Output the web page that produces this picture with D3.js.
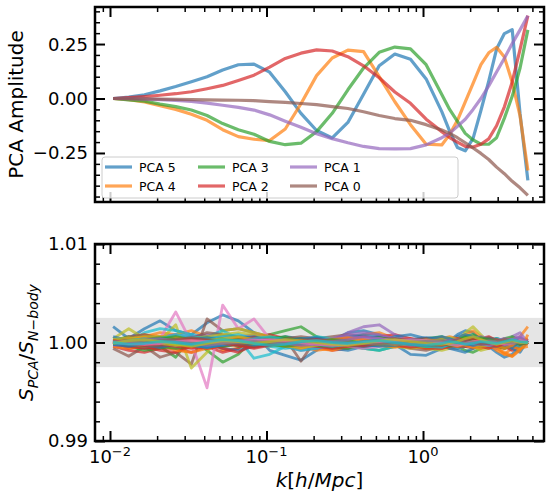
<!DOCTYPE html>
<meta charset="utf-8">
<html>
<head>
<title>PCA amplitudes</title>
<script src="https://cdn.jsdelivr.net/npm/d3@7"></script>
<style>
  body { margin: 0; background: #fff; }
  svg { font-family: "DejaVu Sans", sans-serif; }
  .tick line { stroke: #000; }
  .math { font-style: italic; }
</style>
</head>
<body>
<svg></svg>
<script>

// k grid [h/Mpc], shared by both panels
var kVals = [0.01047, 0.01318, 0.01660, 0.02089, 0.02630, 0.03311, 0.04169, 0.05248, 0.06607, 0.08318,
             0.1047, 0.1318, 0.1660, 0.2089, 0.2630, 0.3311, 0.4169, 0.5248, 0.6607, 0.8318,
             1.047, 1.318, 1.479, 1.660, 1.862, 2.089, 2.344, 2.630, 2.951, 3.311, 3.715, 4.169, 4.677];

var pcaLabels = ["PCA 5", "PCA 4", "PCA 3", "PCA 2", "PCA 1", "PCA 0"];

var pca5 = [0.000, 0.006, 0.017, 0.035, 0.055, 0.077, 0.100, 0.131, 0.155, 0.158, 0.121, 0.031, -0.068, -0.147, -0.181, -0.110, 0.020,
            0.150, 0.204, 0.180, 0.090, -0.060, -0.150, -0.225, -0.240, -0.183, -0.055, 0.080, 0.227, 0.298, 0.316, -0.070, -0.376];
var pca4 = [0.000, -0.005, -0.016, -0.033, -0.050, -0.072, -0.100, -0.143, -0.175, -0.187, -0.193, -0.140, -0.024, 0.105, 0.186, 0.222, 0.215,
            0.100, -0.015, -0.120, -0.210, -0.213, -0.165, -0.100, -0.015, 0.070, 0.155, 0.210, 0.235, 0.190, 0.075, -0.080, -0.330];
var pca3 = [0.000, -0.006, -0.012, -0.026, -0.037, -0.053, -0.078, -0.115, -0.143, -0.164, -0.197, -0.212, -0.205, -0.152, -0.068, 0.040, 0.140,
            0.212, 0.236, 0.228, 0.155, 0.018, -0.050, -0.105, -0.160, -0.190, -0.210, -0.210, -0.180, -0.090, 0.010, 0.140, 0.315];
var pca2 = [0.000, 0.004, 0.009, 0.015, 0.022, 0.031, 0.045, 0.060, 0.083, 0.107, 0.144, 0.184, 0.208, 0.223, 0.218, 0.192, 0.150,
            0.095, 0.030, -0.022, -0.095, -0.152, -0.179, -0.200, -0.220, -0.223, -0.210, -0.185, -0.125, -0.038, 0.076, 0.225, 0.380];
var pca1 = [0.000, -0.001, -0.003, -0.005, -0.009, -0.013, -0.021, -0.031, -0.041, -0.053, -0.075, -0.104, -0.132, -0.162, -0.184, -0.203, -0.220,
            -0.230, -0.231, -0.230, -0.213, -0.180, -0.160, -0.128, -0.095, -0.050, 0.000, 0.058, 0.122, 0.185, 0.252, 0.315, 0.380];
var pca0 = [0.000, -0.001, -0.002, -0.003, -0.004, -0.005, -0.006, -0.007, -0.008, -0.010, -0.014, -0.018, -0.023, -0.028, -0.037, -0.046, -0.061,
            -0.078, -0.092, -0.100, -0.120, -0.145, -0.160, -0.180, -0.203, -0.227, -0.252, -0.280, -0.315, -0.345, -0.380, -0.410, -0.445];

var ampTicks = [-0.25, 0, 0.25];
var ratioTicks = [0.99, 1.00, 1.01];
var kTicks = [0.01, 0.1, 1];
var kTickExp = ["\u22122", "\u22121", "0"];
var ratioBand = [0.9975, 1.0025];

// S_PCA / S_Nbody - 1, in units of 1e-4, one row per test model
var ratioDev = [
  [16, 4, 14, 22, 12, 8, 20, 28, 22, 10, -8, -13, -18, -8, 2, 10, 12, 8, -2, -12, -13, -6, 2, 8, 12, 10, 2, -4, -10, -15, -12, -4, 2],
  [0, -4, 6, 10, 8, 12, 6, -8, -6, 4, 6, 2, -4, -8, -6, 2, 8, 10, 4, -2, -6, -4, 0, 4, 8, 12, 6, -2, -8, -12, -6, 6, 16],
  [2, 6, 0, -4, -15, 6, -8, -20, -12, 4, 8, 12, 16, 6, 2, -4, -6, -8, -4, 2, 4, 6, 2, -4, -8, -10, -6, 0, 4, 2, -2, -6, 0],
  [-4, -8, -10, -6, -6, -10, -4, -10, -6, 6, 8, 4, 2, -4, -8, -6, 2, 6, 8, 4, 0, -4, -6, -6, -4, 0, 4, 6, 2, -4, -8, -2, 4],
  [-2, 2, 4, 6, 8, 6, 4, 6, 2, 0, -2, -4, -8, -6, 2, 10, 16, 18, 8, 0, -2, -4, -2, 2, 4, 2, 0, -4, -6, -4, 6, 10, 0],
  [-6, -14, -4, -15, -10, -22, 24, 12, 14, 10, 6, 4, -19, 4, 6, 8, 6, 2, -2, -6, -8, -4, 0, 4, 6, 4, 0, -2, -4, -6, -4, 2, -2],
  [0, 2, 0, 4, 31, 0, -46, 38, 14, 24, 4, 2, 0, -4, -2, 2, 4, 2, 0, -2, -4, -2, 0, 2, 4, 2, 0, -2, -2, 0, 4, 6, 0],
  [0, 2, 4, 2, 4, 6, 4, 2, 4, 6, 4, 2, 0, -2, -2, 0, 2, 2, 0, -2, -2, 0, 2, 2, 0, -2, -2, 0, 2, 2, 0, -2, 0],
  [4, 14, 4, 2, 18, -26, -10, 12, 14, 10, 6, 2, -2, -6, -4, 0, 2, 4, 2, -2, -6, -8, -6, 2, 10, 16, 8, 0, -4, -4, 0, 4, 0],
  [2, 0, 10, 14, 12, 8, 6, 12, 4, -16, -12, -4, 2, 6, 4, -2, -6, -8, -4, 2, 4, 2, -4, -6, -4, 0, 2, 4, 2, -2, -4, -2, 0],
  [3, -2, -6, -4, 2, 4, -2, -6, -8, -4, 2, 6, 4, -2, -6, -8, -4, 2, 6, 8, 4, -2, -6, -8, -10, -6, -2, 2, 4, 2, -6, -10, 2],
  [-2, 4, 8, 6, 6, 2, -6, -4, 4, 8, 6, 2, -2, -6, -8, -4, 2, 4, 2, 0, -4, -6, -4, 0, 4, 6, 4, 2, -4, -12, -14, -6, -4],
  [0, -4, -8, -6, -2, 4, 6, 2, -4, -2, 4, 6, 2, -2, -4, -6, -2, 2, 4, 2, -2, -4, -2, 2, 6, 8, 4, 0, -4, -6, -2, 4, 0],
  [1, -6, -4, -8, -10, -4, 2, -6, -10, -2, 4, 2, -2, -4, 0, 4, 6, 4, 0, -4, -6, -6, -4, -2, 0, 2, 0, -2, -2, 0, 2, -4, 0],
  [2, 4, 2, -2, 2, 6, 8, 4, 6, 8, 4, 0, -4, -6, -4, 0, 4, 6, 4, 2, 0, -2, -2, 0, 2, 4, 6, 4, 2, 0, -2, 0, 0],
  [0, 6, 8, 4, 2, 4, 10, 8, 6, 4, 2, 4, 6, 4, 2, 0, -2, -2, 0, 2, 4, 2, 0, -2, -4, -6, -4, -2, 0, 2, 4, 2, 0],
  [0, 2, 2, 2, 2, 2, 2, 2, 2, 2, 2, 2, 0, 0, -2, -4, -6, -4, -2, 0, 2, 2, 2, 2, 0, -2, -2, 0, 2, 4, 4, 2, 0],
  [0, 1, 1, 0, -1, 0, 1, 1, 0, -1, 0, 1, 0, -1, 0, 1, 0, -1, 0, 1, 0, -1, 0, 1, 0, -1, 0, 1, 0, -1, 0, 1, 0],
  [2, 4, 6, 6, 4, 4, 6, 8, 10, 8, 4, 2, 0, -2, 0, 2, 0, -2, -4, -4, -2, 0, 2, 2, 0, -4, -8, -6, -2, 2, 0, -2, 0],
  [-2, -4, -2, 4, 8, 6, 4, 6, 8, 4, 0, -4, -8, -6, -2, 2, 4, 2, -2, -4, -4, -2, 2, 4, 2, 0, -2, -4, -4, -2, 0, 2, 0],
  [6, 2, -2, 0, 4, 2, -4, -2, 4, 6, 2, -2, -4, -2, 2, 6, 8, 6, 2, -2, -4, -2, 2, 6, 8, 6, 2, -2, -2, 0, 2, -2, 0],
  [-4, -6, -4, -2, -8, -10, -6, -2, 2, 4, 2, -4, -6, -2, 2, 4, 2, -2, -4, -4, 0, 4, 6, 4, 0, -4, -6, -4, -6, -10, -14, -8, 8],
  [2, 0, -2, -4, -6, -4, 2, 4, 0, -4, -2, 2, 4, 2, -2, -2, 0, 2, 2, 0, -2, -4, -2, 0, 2, 0, -2, -2, 0, 4, 6, 2, 0],
  [-2, -4, -6, -4, -2, -4, -6, -4, -2, 0, 2, 0, -2, -4, -6, -4, -2, 0, 2, 4, 2, 0, -2, -4, -4, -2, 0, 2, 2, 0, -2, 2, 0],
  [0, 2, 4, 2, 0, -2, 0, 2, 4, 2, 0, -2, -2, 0, 4, 8, 10, 8, 4, 0, -2, -4, -2, 0, 2, 4, 2, 0, -2, 0, 4, 6, 0],
  [-2, 0, 2, 4, 2, -2, -4, -2, 0, 2, 4, 2, 0, -2, -2, 0, 2, 4, 4, 2, 0, -2, -4, -4, -2, 0, 2, 4, 2, 0, -2, -2, 0],
  [0, 1, 2, 3, 2, 1, 0, -1, -2, -1, 0, 1, 2, 1, 0, -1, -2, -3, -2, -1, 0, 1, 2, 1, 0, -1, -2, -1, 0, 1, 2, 1, 0],
  [0, -1, 0, 1, 2, 3, 2, 1, 0, 1, 2, 3, 2, 1, 0, -1, -2, -1, 0, 1, 0, -1, -2, -1, 0, 1, 2, 1, 0, -1, 0, 1, 0],
  [0, -2, -4, -2, 0, 2, 4, 2, 0, -2, -4, -2, 0, 2, 4, 2, 0, -2, -4, -6, -4, -2, 0, 2, 0, -2, -4, -2, 0, 2, 4, 2, 0],
  [0, 2, 0, -2, -4, -2, 0, 2, 0, -2, -4, -6, -4, -2, 0, 2, 0, -2, -4, -2, 0, 2, 4, 2, 0, -2, 0, 2, 4, 2, -2, -4, 0],
  [2, 1, -3, -5, -2, 3, 5, 2, -1, -4, -3, 1, 4, 5, 2, -2, -4, -3, 0, 3, 5, 4, 1, -2, -3, -1, 2, 4, 3, -1, -3, 2, 0],
  [-1, 3, 5, 2, -2, -5, -3, 2, 5, 3, -1, -3, -5, -2, 2, 4, 1, -3, -5, -2, 2, 5, 3, 0, -3, -5, -2, 1, 3, 1, -4, -7, 0],
  [0, -2, 1, 4, 6, 3, -1, -4, -2, 2, 5, 4, 0, -3, -4, -1, 3, 5, 2, -2, -4, -3, 0, 3, 5, 3, -1, -3, -1, 2, 4, 1, 0],
  [1, 4, 2, -2, -4, -6, -3, 1, 3, 5, 2, -2, -4, -1, 2, 4, 2, -1, -3, -5, -3, 0, 2, 4, 2, -2, -4, -6, -3, 1, 3, -2, 0],
  [-3, -1, 2, 3, 1, -2, -4, -2, 1, 3, 2, 0, -2, 1, 4, 6, 5, 2, -1, -3, -2, 1, 3, 2, -1, -3, -2, 0, 2, 4, 2, 5, 0],
  [0, -3, -5, -3, 0, 3, 2, -1, -3, -5, -2, 1, 3, 2, -1, -3, -4, -2, 1, 3, 4, 2, -1, -3, -2, 1, 3, 5, 3, 0, -2, -1, 0],
  [1, 0, -1, 1, 3, 2, 0, -2, -1, 1, 2, 1, -1, -2, -1, 1, 3, 4, 2, 0, -1, 0, 1, 2, 1, 0, -1, 0, 1, 2, 3, 1, 0],
  [-1, 0, 2, 1, -1, -2, 0, 2, 3, 1, -1, -2, 0, 2, 1, -1, -2, 0, 1, 2, 0, -2, -1, 1, 2, 0, -2, -1, 1, 0, -1, 1, 0],
  [3, 5, 2, -1, -3, -1, 2, 4, 6, 3, 0, -3, -5, -3, 0, 2, 1, -1, -3, -1, 2, 4, 5, 3, 1, -2, -4, -3, 0, 2, 1, -1, 0],
  [0, 2, 4, 2, -1, -3, -5, -2, 1, 4, 6, 3, 0, -2, -4, -2, 1, 3, 1, -2, -4, -5, -2, 1, 3, 2, -1, -3, -4, -2, 2, 3, 0],
  [-2, -4, -1, 2, 0, -3, -5, -3, 0, 2, 0, -3, -2, 1, 3, 1, -2, -4, -3, 0, 3, 6, 4, 1, -1, -3, -1, 2, 0, -3, -5, 1, 0],
  [2, 0, -2, 1, 4, 2, -1, 1, 4, 2, -1, -4, -3, 0, 3, 5, 3, 0, -2, 0, 3, 1, -2, -4, -2, 1, 3, 1, -3, -6, -3, 3, 0],
  [-1, 1, 3, 5, 3, 0, -2, 1, 3, 1, -2, -4, -2, 1, 3, 2, -1, -2, 0, 2, 1, -1, -3, -2, 1, 3, 5, 3, 1, -1, 1, -2, 0],
  [2, -1, -3, -1, 2, 4, 2, -1, -3, -6, -3, 0, 2, 3, 1, -2, -3, -1, 1, 0, -2, -3, -1, 1, 3, 4, 1, -2, -4, -2, 1, 2, 0],
  [0, 1, 3, 4, 2, -1, -3, -1, 2, 3, 1, -1, -3, -2, 1, 3, 6, 4, 1, -1, -2, 0, 2, 3, 1, -1, -2, -3, -1, 1, 3, 4, 0],
  [1, -2, -1, 2, 3, 5, 3, 0, -2, -1, 2, 3, 1, -2, -3, -1, 1, 2, 0, -2, -3, -2, 1, 3, 2, 0, -2, -1, 1, 3, 2, -1, 0],
  [0, -1, -2, -1, 1, 2, 1, 0, 1, 2, 3, 2, 0, -2, -3, -2, 0, 1, 2, 3, 2, 0, -2, -3, -1, 1, 2, 1, 0, -2, -1, 2, 0],
  [1, 0, 1, 2, 1, -1, -2, -1, 0, 1, 0, -1, 1, 2, 1, 0, -1, -2, -1, 0, 1, 2, 1, 0, -1, 0, 1, 2, 1, 0, -1, 0, 0],
  [-1, 2, 3, 1, -2, -4, -1, 2, 1, -1, 1, 3, 2, 0, -2, -3, -1, 2, 3, 1, -1, -2, -1, 1, 4, 6, 3, 0, -2, 0, 2, 0, 0],
  [0, -2, -1, 1, 0, -2, 1, 3, 2, -1, -3, -2, 1, 2, 0, -1, 1, 2, 0, -2, -3, -1, 1, 0, -2, -1, 1, 0, -1, 1, 3, 1, 0]
];

var ampSeries = [pca5, pca4, pca3, pca2, pca1, pca0];

var color = d3.scaleOrdinal(d3.schemeCategory10).domain(d3.range(10));
var left = 95, width = 449;
var top1 = 7, height1 = 195;
var top2 = 244, height2 = 197;

var x = d3.scaleLog().domain([0.00802, 5.93]).range([0, width]);
var yAmp = d3.scaleLinear().domain([-0.475, 0.42]).range([height1, 0]);
var yRatio = d3.scaleLinear().domain([0.99, 1.01]).range([height2, 0]);

var svg = d3.select("svg").attr("width", 551).attr("height", 501);

var g1 = svg.append("g").attr("transform", "translate(" + left + "," + top1 + ")");
var g2 = svg.append("g").attr("transform", "translate(" + left + "," + top2 + ")");

// minor tick positions
var kMinor = [];
[0.001, 0.01, 0.1, 1].forEach(function(d) {
  for (var m = 2; m < 10; m++) {
    var v = m * d;
    if (v > x.domain()[0] && v < x.domain()[1]) kMinor.push(v);
  }
});
var ampMinor = d3.range(-9, 9).filter(function(i) { return i % 5 != 0; }).map(function(i) { return i * 0.05; });
var ratioMinor = d3.range(-4, 5).filter(function(i) { return i % 5 != 0; }).map(function(i) { return 1 + i * 0.002; });

// ---- top panel
var lineAmp = d3.line()
    .x(function(d, i) { return x(kVals[i]); })
    .y(function(d) { return yAmp(d); });

g1.selectAll(".amp")
    .data(ampSeries)
    .enter().append("path")
    .attr("class", "amp")
    .attr("d", lineAmp)
    .style("fill", "none")
    .style("stroke", function(d, i) { return color(i); })
    .style("stroke-width", 3.2)
    .style("stroke-opacity", 0.7)
    .style("stroke-linejoin", "round");

// ---- bottom panel
g2.append("rect")
    .attr("x", 0)
    .attr("width", width)
    .attr("y", yRatio(ratioBand[1]))
    .attr("height", yRatio(ratioBand[0]) - yRatio(ratioBand[1]))
    .style("fill", "lightgray")
    .style("opacity", 0.6);

var lineRatio = d3.line()
    .x(function(d, i) { return x(kVals[i]); })
    .y(function(d) { return yRatio(1 + d * 1e-4); });

g2.selectAll(".ratio")
    .data(ratioDev)
    .enter().append("path")
    .attr("class", "ratio")
    .attr("d", lineRatio)
    .style("fill", "none")
    .style("stroke", function(d, i) { return color(i % 10); })
    .style("stroke-width", 2.8)
    .style("stroke-opacity", 0.7)
    .style("stroke-linejoin", "round");

// inward ticks on all four sides
function frameTicks(g, h, ys, xVals, yVals, size, sw) {
  var axes = [
    g.append("g").attr("transform", "translate(0," + h + ")").call(d3.axisBottom(x).tickValues(xVals).tickSize(-size).tickFormat("")),
    g.append("g").call(d3.axisTop(x).tickValues(xVals).tickSize(-size).tickFormat("")),
    g.append("g").call(d3.axisLeft(ys).tickValues(yVals).tickSize(-size).tickFormat("")),
    g.append("g").attr("transform", "translate(" + width + ",0)").call(d3.axisRight(ys).tickValues(yVals).tickSize(-size).tickFormat(""))
  ];
  axes.forEach(function(a) {
    a.select(".domain").remove();
    a.selectAll(".tick text").remove();
    a.selectAll(".tick line").style("stroke-width", sw);
  });
}

frameTicks(g1, height1, yAmp, kMinor, ampMinor, 5, 1.5);
frameTicks(g1, height1, yAmp, kTicks, ampTicks, 10, 2);
frameTicks(g2, height2, yRatio, kMinor, ratioMinor, 5, 1.5);
frameTicks(g2, height2, yRatio, kTicks, ratioTicks, 10, 2);

[[g1, height1], [g2, height2]].forEach(function(p) {
  p[0].append("rect")
      .attr("width", width)
      .attr("height", p[1])
      .style("fill", "none")
      .style("stroke", "#000")
      .style("stroke-width", 2.5);
});

// tick labels
var fmt = d3.format(".2f");
g1.selectAll(".ylab")
    .data(ampTicks)
    .enter().append("text")
    .attr("x", -7)
    .attr("y", function(d) { return yAmp(d); })
    .attr("dy", "0.36em")
    .style("text-anchor", "end")
    .style("font-size", "18px")
    .text(fmt);

g2.selectAll(".ylab")
    .data(ratioTicks)
    .enter().append("text")
    .attr("x", -7)
    .attr("y", function(d) { return yRatio(d); })
    .attr("dy", "0.36em")
    .style("text-anchor", "end")
    .style("font-size", "18px")
    .text(fmt);

var xlab = g2.selectAll(".xlab")
    .data(kTicks)
    .enter().append("text")
    .attr("x", function(d) { return x(d); })
    .attr("y", height2 + 22)
    .style("text-anchor", "middle")
    .style("font-size", "18px");
xlab.append("tspan").text("10");
xlab.append("tspan")
    .attr("dy", -7)
    .style("font-size", "13px")
    .text(function(d, i) { return kTickExp[i]; });

// axis titles
svg.append("text")
    .attr("transform", "translate(23," + (top1 + height1 / 2) + ") rotate(-90)")
    .style("text-anchor", "middle")
    .style("font-size", "20px")
    .text("PCA Amplitude");

var ylab2 = svg.append("text")
    .attr("transform", "translate(33," + (top2 + height2 / 2) + ") rotate(-90)")
    .style("text-anchor", "middle")
    .style("font-size", "20px");
ylab2.append("tspan").attr("class", "math").text("S");
ylab2.append("tspan").attr("class", "math").attr("dy", 5).style("font-size", "14px").text("PCA");
ylab2.append("tspan").attr("dy", -5).text("/");
ylab2.append("tspan").attr("class", "math").text("S");
ylab2.append("tspan").attr("class", "math").attr("dy", 5).style("font-size", "14px").text("N");
ylab2.append("tspan").style("font-size", "14px").text("\u2212");
ylab2.append("tspan").attr("class", "math").style("font-size", "14px").text("body");

var xlab2 = svg.append("text")
    .attr("x", left + width / 2)
    .attr("y", 487)
    .style("text-anchor", "middle")
    .style("font-size", "20px");
xlab2.append("tspan").attr("class", "math").text("k");
xlab2.append("tspan").text("[");
xlab2.append("tspan").attr("class", "math").text("h");
xlab2.append("tspan").text("/");
xlab2.append("tspan").attr("class", "math").text("Mpc");
xlab2.append("tspan").text("]");

// legend, 4 columns x 2 rows filled column-wise
var legendCols = [10, 103, 195, 288];
var legendRows = [160, 179];

var legend = g1.append("g").attr("class", "legend");
legend.append("rect")
    .attr("x", 7)
    .attr("y", 150)
    .attr("width", 356)
    .attr("height", 41)
    .attr("rx", 3)
    .style("fill", "#fff")
    .style("fill-opacity", 0.8)
    .style("stroke", "#cccccc")
    .style("stroke-width", 1);

var item = legend.selectAll(".item")
    .data(pcaLabels)
    .enter().append("g")
    .attr("class", "item")
    .attr("transform", function(d, i) {
      return "translate(" + legendCols[Math.floor(i / 2)] + "," + legendRows[i % 2] + ")";
    });

item.append("line")
    .attr("x1", 0)
    .attr("x2", 27)
    .style("stroke", function(d, i) { return color(i); })
    .style("stroke-width", 3.2)
    .style("stroke-opacity", 0.7);

item.append("text")
    .attr("x", 34)
    .attr("dy", "0.36em")
    .style("font-size", "12.5px")
    .text(function(d) { return d; });

</script>
</body>
</html>
